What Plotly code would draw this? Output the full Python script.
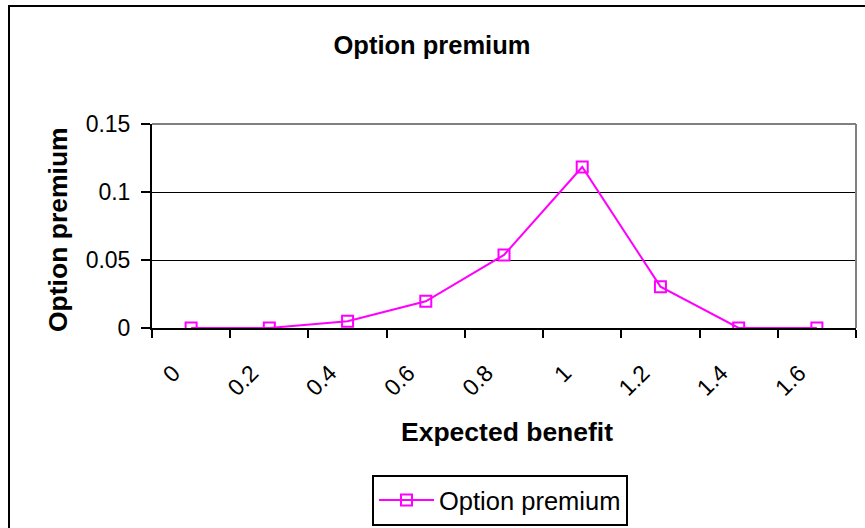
import plotly.graph_objects as go

# Expected benefit categories and the option premium at each
benefit = [0, 0.2, 0.4, 0.6, 0.8, 1.0, 1.2, 1.4, 1.6]
benefit_labels = ["0", "0.2", "0.4", "0.6", "0.8", "1", "1.2", "1.4", "1.6"]
premium = [0.0, 0.0, 0.005, 0.0196, 0.0537, 0.1184, 0.0304, 0.0, 0.0]
y_ticks = [0, 0.05, 0.1, 0.15]
y_tick_labels = ["0", "0.05", "0.1", "0.15"]

W, H = 865, 528
L, R, T, B = 152, 9, 124, 200
PW, PH = W - L - R, H - T - B


def px_x(x):
    return (x - L) / PW


def px_y(y):
    return 1 - (y - T) / PH


FONT = "Liberation Sans, Arial, sans-serif"
MAGENTA = "#FF00FF"

# category boundaries for the tick marks between the points
step = benefit[1] - benefit[0]
bounds = [benefit[0] - step / 2 + i * step for i in range(len(benefit) + 1)]
# the rotated labels sit a little left of each category centre
label_shift = 0.045

fig = go.Figure()
fig.add_trace(go.Scatter(
    x=benefit, y=premium, mode="lines+markers", name="Option premium",
    line=dict(color=MAGENTA, width=2),
    marker=dict(symbol="square-open", size=11, color=MAGENTA, line=dict(width=2, color=MAGENTA)),
))
# invisible trace carrying the rotated category labels
fig.add_trace(go.Scatter(x=benefit, y=premium, xaxis="x2", mode="markers",
                         marker=dict(opacity=0), showlegend=False, hoverinfo="skip"))

fig.update_layout(
    width=W, height=H,
    margin=dict(l=L, r=R, t=T, b=B, autoexpand=False),
    paper_bgcolor="white", plot_bgcolor="white",
    font=dict(family=FONT, color="black", size=23),
    showlegend=True,
    title=dict(text="<b>Option premium</b>", x=432 / W, xanchor="center",
               y=1 - 45 / H, yanchor="middle", font=dict(size=25.5, family=FONT)),
    xaxis=dict(
        range=[bounds[0], bounds[-1]], tickvals=bounds, showticklabels=False,
        ticks="outside", ticklen=8, tickwidth=2, tickcolor="black",
        showline=True, linecolor="black", linewidth=2, showgrid=False, zeroline=False,
    ),
    xaxis2=dict(
        overlaying="x", side="bottom",
        range=[bounds[0] + label_shift, bounds[-1] + label_shift],
        tickvals=benefit, ticktext=benefit_labels, tickangle=-45, ticks="",
        ticklabelstandoff=26,
        showline=False, showgrid=False, zeroline=False, tickfont=dict(size=23),
    ),
    yaxis=dict(
        range=[0, 0.15], tickvals=y_ticks, ticktext=y_tick_labels,
        ticks="outside", ticklen=9, tickwidth=2, tickcolor="black",
        ticklabelstandoff=6, tickfont=dict(size=23),
        showline=True, linecolor="black", linewidth=2,
        showgrid=True, gridcolor="black", gridwidth=1, zeroline=False,
    ),
    legend=dict(
        x=px_x(372), y=px_y(475), xanchor="left", yanchor="top",
        bordercolor="black", borderwidth=2, bgcolor="white",
        font=dict(size=25.5, family=FONT), itemwidth=55,
    ),
    annotations=[
        dict(text="<b>Expected benefit</b>", xref="paper", yref="paper",
             x=px_x(507), y=px_y(432), xanchor="center", yanchor="middle",
             showarrow=False, font=dict(size=26.5)),
        dict(text="<b>Option premium</b>", xref="paper", yref="paper",
             x=px_x(58), y=px_y(230), xanchor="center", yanchor="middle",
             showarrow=False, textangle=-90, font=dict(size=26.5)),
    ],
    shapes=[
        # plot-area frame on the top and right
        dict(type="line", xref="paper", yref="paper", x0=0, x1=1, y0=1, y1=1,
             line=dict(color="#808080", width=2)),
        dict(type="line", xref="paper", yref="paper", x0=1, x1=1, y0=0, y1=1,
             line=dict(color="#808080", width=2)),
        # chart border
        dict(type="rect", xref="paper", yref="paper", x0=px_x(9), x1=px_x(W + 20),
             y0=px_y(H + 20), y1=px_y(6), line=dict(color="black", width=2), layer="below"),
    ],
)

fig.write_html("out.html")
